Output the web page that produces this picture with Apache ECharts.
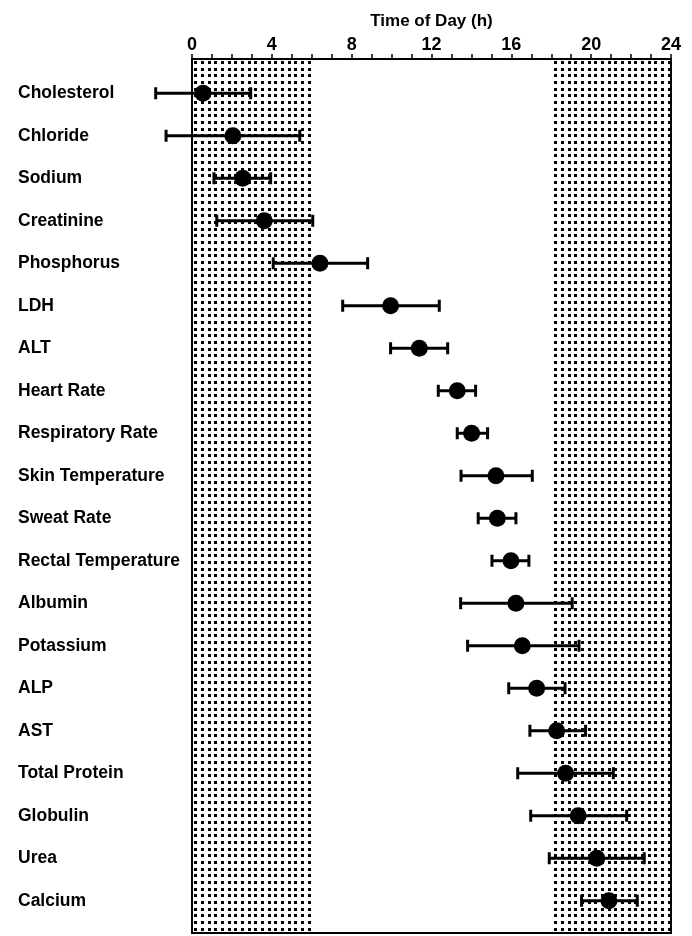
<!DOCTYPE html>
<html>
<head>
<meta charset="utf-8">
<script src="https://cdn.jsdelivr.net/npm/echarts@6/dist/echarts.min.js"></script>
<style>
html,body{margin:0;padding:0;background:#fff;}
#chart{width:692px;height:936px;}
</style>
</head>
<body>
<div id="chart"></div>
<script>
const categories = ["Cholesterol","Chloride","Sodium","Creatinine","Phosphorus","LDH","ALT","Heart Rate","Respiratory Rate","Skin Temperature","Sweat Rate","Rectal Temperature","Albumin","Potassium","ALP","AST","Total Protein","Globulin","Urea","Calcium"];
const acrophase = [0.55,2.05,2.54,3.62,6.41,9.95,11.39,13.29,14.01,15.23,15.30,15.98,16.23,16.55,17.27,18.27,18.72,19.35,20.28,20.89];
const lowerCI   = [-1.82,-1.30,1.10,1.24,4.07,7.55,9.95,12.34,13.29,13.48,14.34,15.03,13.46,13.81,15.87,16.93,16.32,16.97,17.90,19.52];
const upperCI   = [2.94,5.40,3.94,6.05,8.80,12.39,12.81,14.21,14.81,17.05,16.23,16.88,19.05,19.39,18.69,19.72,21.11,21.78,22.66,22.31];
const nightStart = [0,18];
const nightEnd   = [6,24];
const xTicks = [0,4,8,12,16,20,24];

const FONT = '"Liberation Sans", Arial, Helvetica, sans-serif';

// dotted hatch pattern
const pat = document.createElement('canvas');
pat.width = 20; pat.height = 20;
const pc = pat.getContext('2d');
pc.fillStyle = '#fff'; pc.fillRect(0,0,20,20);
pc.fillStyle = '#000';
[1,8,14].forEach(x=>[1,8,14].forEach(y=>pc.fillRect(x,y,3,3)));

const chart = echarts.init(document.getElementById('chart'), null, {renderer:'canvas'});

const errData = categories.map((c,i)=>[i, lowerCI[i], upperCI[i]]);
const dotData = categories.map((c,i)=>[acrophase[i], i]);
const hatchData = nightStart.map((s,i)=>[s, nightEnd[i]]);

chart.setOption({
  animation:false,
  backgroundColor:'#fff',
  grid:[
    {left:192, top:59, width:479, height:874, show:true, borderColor:'#000', borderWidth:2, backgroundColor:'transparent', z:5},
    {left:192, top:72, width:479, height:850}
  ],
  xAxis:[
    {gridIndex:0, type:'value', position:'top', min:0, max:24, interval:4, z:6,
     name:'Time of Day (h)', nameLocation:'middle', nameGap:29,
     nameTextStyle:{fontFamily:FONT, fontWeight:'bold', fontSize:17, color:'#000'},
     axisLine:{show:true, onZero:false, lineStyle:{color:'#000', width:2}},
     axisTick:{show:true, inside:false, length:5, lineStyle:{color:'#000', width:1.5}},
     minorTick:{show:true, splitNumber:4, length:5, lineStyle:{color:'#000', width:1.5}},
     splitLine:{show:false},
     axisLabel:{fontFamily:FONT, fontWeight:'bold', fontSize:18, color:'#000', margin:5,
       formatter:v=> xTicks.indexOf(v)>=0 ? String(v) : ''}
    },
    {gridIndex:1, type:'value', min:0, max:24, show:false, axisLine:{onZero:false}}
  ],
  yAxis:[
    {gridIndex:0, type:'value', min:0, max:1, show:false, axisLine:{onZero:false}},
    {gridIndex:1, type:'category', inverse:true, data:categories,
     axisLine:{show:false, onZero:false}, axisTick:{show:false}, splitLine:{show:false},
     axisLabel:{fontFamily:FONT, fontWeight:'bold', fontSize:17.5, color:'#000', align:'left', margin:174}
    }
  ],
  series:[
    {type:'custom', xAxisIndex:0, yAxisIndex:0, z:1, silent:true,
     data:hatchData,
     renderItem:(params, api)=>{
       const p0 = api.coord([api.value(0), 1]);
       const p1 = api.coord([api.value(1), 0]);
       return {type:'rect', shape:{x:p0[0], y:p0[1], width:p1[0]-p0[0], height:p1[1]-p0[1]},
               style:{fill:{image:pat, repeat:'repeat'}}};
     }
    },
    {type:'custom', xAxisIndex:1, yAxisIndex:1, z:7, silent:true,
     data:errData,
     encode:{x:[1,2], y:0},
     renderItem:(params, api)=>{
       const idx = api.value(0);
       const a = api.coord([api.value(1), idx]);
       const b = api.coord([api.value(2), idx]);
       const h = 6;
       const st = {stroke:'#000', lineWidth:3};
       return {type:'group', children:[
         {type:'line', shape:{x1:a[0], y1:a[1], x2:b[0], y2:b[1]}, style:st},
         {type:'line', shape:{x1:a[0], y1:a[1]-h, x2:a[0], y2:a[1]+h}, style:st},
         {type:'line', shape:{x1:b[0], y1:b[1]-h, x2:b[0], y2:b[1]+h}, style:st}
       ]};
     }
    },
    {type:'scatter', xAxisIndex:1, yAxisIndex:1, z:8, silent:true,
     data:dotData, symbol:'circle', symbolSize:17,
     itemStyle:{color:'#000', opacity:1}
    }
  ]
});
</script>
</body>
</html>
